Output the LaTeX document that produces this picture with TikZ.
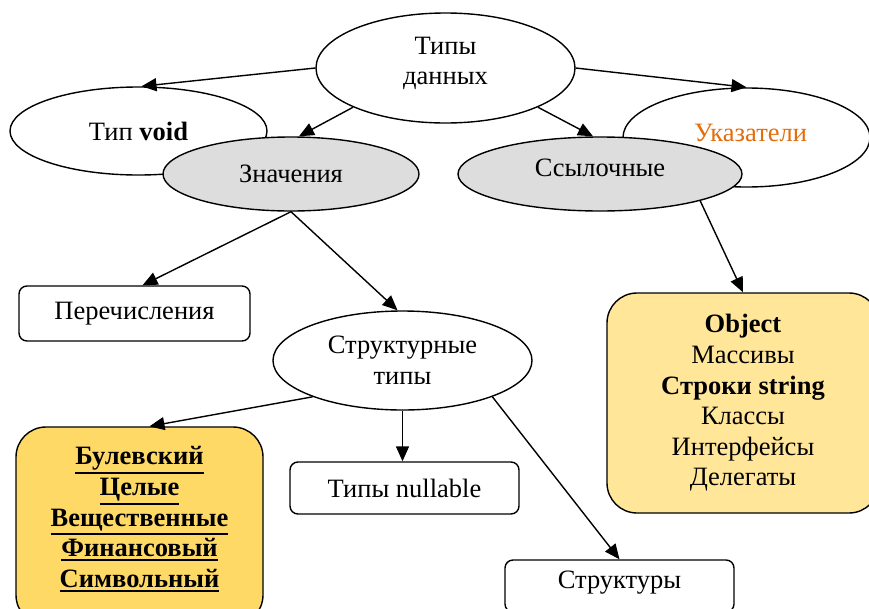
\documentclass[tikz,border=0pt]{standalone}
\usepackage{fontspec}
\setmainfont{Liberation Serif}
\newcommand\ulword[1]{\leavevmode\vtop{\hbox{#1}\kern1.8pt\hrule height2pt}}
\usetikzlibrary{shapes.geometric,arrows.meta,calc}
\definecolor{grayfill}{RGB}{221,221,221}
\definecolor{boolfill}{RGB}{255,217,102}
\definecolor{objfill}{RGB}{255,230,153}
\definecolor{orangetxt}{RGB}{228,108,10}
\begin{document}
\begin{tikzpicture}[x=1pt,y=-1pt,
  font=\fontsize{26.5}{30.6}\selectfont,
  ell/.style={ellipse, draw, line width=1.4pt, inner sep=0pt, fill=white},
  grayell/.style={ell, fill=grayfill},
  box/.style={draw, rectangle, rounded corners=8pt, line width=1.4pt, inner sep=0pt, fill=white},
  bigbox/.style={draw, rectangle, rounded corners=30pt, line width=1.4pt, inner sep=0pt},
  txt/.style={align=center, inner sep=0pt},
  arr/.style={line width=1.4pt, -{Triangle[length=15pt,width=13pt]}}]
\useasboundingbox (0,0) rectangle (869,608);
\clip (0,0) rectangle (869,608);
\fill[white] (0,0) rectangle (869,608);

% top ellipse
\node[ell, minimum width=259pt, minimum height=110pt] (td) at (445.5,68) {};
\node[txt] (tdtext) at ($(td.center)+(0,-4.5)$) {Типы\\данных};

% left pair
\node[ell, minimum width=257pt, minimum height=88pt] (void) at (138.5,131) {Тип \textbf{void}};
\node[grayell, minimum width=256pt, minimum height=74pt] (zn) at (291,174) {Значения};

% right pair
\node[ell, minimum width=247pt, minimum height=99pt] (uk) at (746.5,137.5) {};
\node[txt, text=orangetxt] (uktext) at ($(uk.center)+(4,-5)$) {Указатели};
\node[grayell, minimum width=284pt, minimum height=74pt] (ss) at (600,174) {};
\node[txt] (sstext) at ($(ss.center)+(0,-6)$) {Ссылочные};

% middle
\node[box, minimum width=231pt, minimum height=55pt] (per) at (134.5,313.5) {Перечисления};
\node[ell, minimum width=259pt, minimum height=99pt, align=center] (str) at (402.5,360.5) {Структурные\\типы};

% lower boxes
\node[bigbox, fill=boolfill, minimum width=247pt, minimum height=198pt] (bool) at (139.5,526) {};
\node[txt, font=\fontsize{26.5}{30.7}\selectfont\bfseries] (booltext) at (139.5,519)
  {\ulword{Булевский}\\\ulword{Целые}\\\ulword{Вещественные}\\\ulword{Финансовый}\\\ulword{Символьный}};
\node[box, minimum width=229pt, minimum height=52pt] (nul) at (404.5,488) {Типы nullable};
\node[box, minimum width=229pt, minimum height=52pt] (stru) at (619.5,586) {};
\node[txt] (strutext) at ($(stru.center)+(0,-3)$) {Структуры};
\node[bigbox, fill=objfill, minimum width=272pt, minimum height=220pt, align=center] (obj) at (743,403)
  {\textbf{Object}\\Массивы\\\textbf{Строки string}\\Классы\\Интерфейсы\\Делегаты};

% connectors
\draw[arr] (td.west) -- ($(void.north)+(3,0)$);
\draw[arr] (td.203) -- ($(zn.north)+(8,0)$);
\draw[arr] (td.-23) -- ($(ss.north)+(-7,0)$);
\draw[arr] (td.east) -- (uk.north);
\draw[arr] (zn.south) -- ($(per.north)+(8,0)$);
\draw[arr] (zn.south) -- ($(str.north)+(-5,0)$);
\draw[arr] (ss.-15) -- (obj.north);
\draw[arr] (str.202) -- ($(bool.north)+(10,0)$);
\draw[arr] (str.south) -- (str.south |- nul.north);
\draw[arr] (str.-22) -- (stru.north);
\end{tikzpicture}
\end{document}
